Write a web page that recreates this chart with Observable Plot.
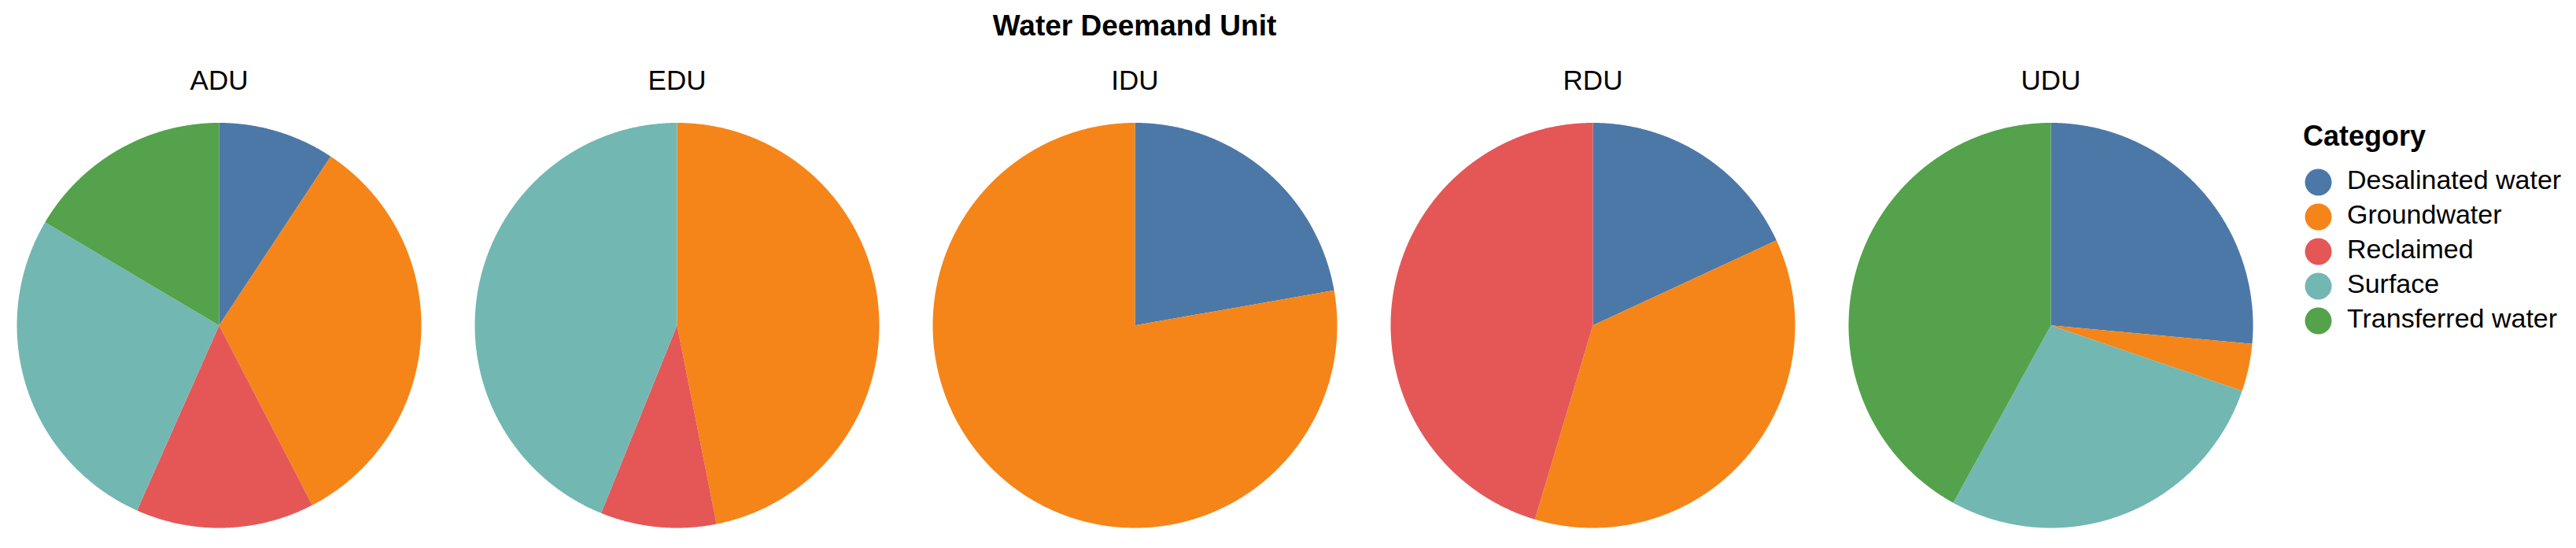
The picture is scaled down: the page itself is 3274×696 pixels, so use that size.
<!DOCTYPE html>
<html>
<head>
<meta charset="utf-8">
<script src="https://cdn.jsdelivr.net/npm/d3@7"></script>
<script src="https://cdn.jsdelivr.net/npm/@observablehq/plot@0.6"></script>
<style>
  body { margin: 0; background: #fff; font-family: "Liberation Sans", Arial, sans-serif; }
  #wrap { position: relative; width: 3274px; height: 696px; overflow: hidden; }
  #title { position: absolute; left: 0; width: 2884px; top: 14px; text-align: center; font-weight: bold; font-size: 37px; line-height: 37px; color: #000; }
  #chart { position: absolute; left: 0; top: 0; }
  #legendTitle { position: absolute; left: 2927px; top: 155px; font-weight: bold; font-size: 36px; line-height: 36px; color: #000; }
  #legend { position: absolute; left: 2900px; top: 0; }
</style>
</head>
<body>
<div id="wrap">
  <div id="chart"></div>
  <div id="title">Water Deemand Unit</div>
  <div id="legendTitle">Category</div>
  <div id="legend"></div>
</div>
<script>
// ---- data (shares in %) ----
const units = ["ADU", "EDU", "IDU", "RDU", "UDU"];
const categories = ["Desalinated water", "Groundwater", "Reclaimed", "Surface", "Transferred water"];
const desalinated = [9.3, 0, 22.24, 18.11, 26.46];
const groundwater = [33.08, 46.87, 77.76, 36.52, 3.78];
const reclaimed   = [14.27, 9.25, 0, 45.37, 0];
const surface     = [26.86, 43.88, 0, 0, 27.77];
const transferred = [16.49, 0, 0, 0, 41.99];
const colors = ["#4c78a8", "#f58518", "#e45756", "#72b7b2", "#54a24b"];

const series = [desalinated, groundwater, reclaimed, surface, transferred];

// Build pie slice outlines (in unit-circle data space) from the values
const points = [];
units.forEach((u, ui) => {
  const vals = series.map(s => s[ui]);
  const arcs = d3.pie().sort(null).value(v => v)(vals);
  arcs.forEach((a, ci) => {
    if (a.value <= 0) return;
    const key = u + "|" + categories[ci];
    points.push({unit: u, cat: categories[ci], key, x: 0, y: 0});
    const n = Math.max(2, Math.ceil((a.endAngle - a.startAngle) / (Math.PI / 720)));
    for (let i = 0; i <= n; i++) {
      const t = a.startAngle + (a.endAngle - a.startAngle) * i / n;
      points.push({unit: u, cat: categories[ci], key, x: Math.sin(t), y: Math.cos(t)});
    }
  });
});

const chart = Plot.plot({
  width: 2880,
  height: 696,
  marginLeft: 18.5,
  marginRight: 14.5,
  marginTop: 155.5,
  marginBottom: 26,
  style: {fontFamily: "'Liberation Sans', Arial, sans-serif", fontSize: "35px", color: "#000", background: "#fff"},
  fx: {domain: units, paddingInner: 0.1166, paddingOuter: 0, axis: "top", tickSize: 0, tickPadding: 42, label: null},
  x: {domain: [-1, 1], axis: null},
  y: {domain: [-1, 1], axis: null},
  color: {domain: categories, range: colors},
  marks: [
    Plot.line(points, {fx: "unit", x: "x", y: "y", z: "key", fill: "cat", stroke: "none", curve: "linear-closed"})
  ]
});
document.getElementById("chart").appendChild(chart);

const legend = Plot.plot({
  width: 374,
  height: 696,
  marginLeft: 46,
  marginRight: 0,
  marginTop: 0,
  marginBottom: 0,
  style: {fontFamily: "'Liberation Sans', Arial, sans-serif", fontSize: "34px", color: "#000", background: "transparent"},
  y: {type: "point", domain: categories, range: [230.3, 407.5], padding: 0, axis: null},
  color: {domain: categories, range: colors},
  marks: [
    Plot.dot(categories, {y: d => d, fill: d => d, r: 17, frameAnchor: "left"}),
    Plot.text(categories, {y: d => d, text: d => d, frameAnchor: "left", dx: 36.5, dy: -2, textAnchor: "start", fontSize: 34, fill: "#000"})
  ]
});
document.getElementById("legend").appendChild(legend);
</script>
</body>
</html>
